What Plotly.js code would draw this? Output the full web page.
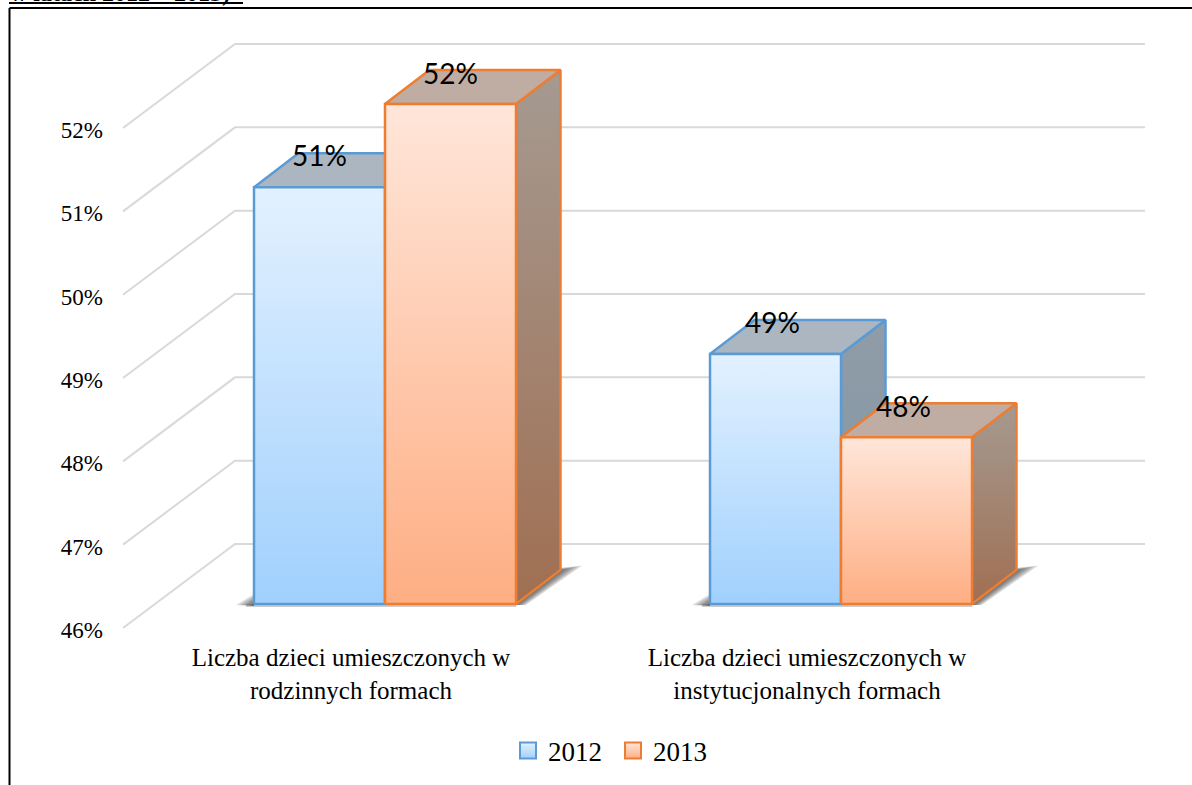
<!DOCTYPE html>
<html>
<head>
<meta charset="utf-8">
<script src="https://cdn.plot.ly/plotly-3.0.1.min.js"></script>
<style>html,body{margin:0;padding:0;background:#fff}#chart{width:1192px;height:785px}</style>
</head>
<body>
<div id="chart"></div>
<script>
// ---- data ----
const categories = ["Liczba dzieci umieszczonych w<br>rodzinnych formach", "Liczba dzieci umieszczonych w<br>instytucjonalnych formach"];
const years = ["2012", "2013"];
const values2012 = [51, 49];
const values2013 = [52, 48];
const axisTicks = [46, 47, 48, 49, 50, 51, 52];
const axisTickText = ["46%", "47%", "48%", "49%", "50%", "51%", "52%"];
const heading = "w latach 2012 – 2013)";

// ---- scales: one category = 456px, one percent = 83.33px ----
const W = 1192, H = 785;
const ux = 1 / 456, uy = 1 / 83.33;
const xRange = [1 - 385 * ux, 1 + (W - 385) * ux];
const yRange = [46 - (H - 604) * uy, 46 + 604 * uy];
const baseV = 46;
const barW = 131 * ux, depX = 44.5 * ux, depY = 34 * uy;

const blue = {line: "#5b9bd5", top: "rgb(171,182,192)", front: ["#a0d0fd", "#e3f1ff"], side: ["#7f95a7", "#909ca6"]};
const orange = {line: "#ed7d31", top: "rgb(191,173,163)", front: ["#feae83", "#ffe6da"], side: ["#a06f52", "#a59a91"]};

const traces = [];
const none = {hoverinfo: "skip", showlegend: false};

// walls: gridlines
axisTicks.forEach(v => {
  traces.push({...none, type: "scatter", mode: "lines",
    x: [1 - 262 * ux, 1 - 150 * ux, 1 + 760 * ux],
    y: [v - 24 * uy, v + 60 * uy, v + 60 * uy],
    line: {color: "#d9d9d9", width: 2}});
});

function poly(xs, ys, opts) {
  traces.push({...none, type: "scatter", mode: "lines", fill: "toself",
    x: [...xs, xs[0]], y: [...ys, ys[0]], ...opts});
}
const noLine = {width: 0, color: "rgba(0,0,0,0)"};
function shadow(L, R) {
  [22, 19, 16, 13, 10, 7, 4].forEach(e => poly(
    [R, R + depX, R + depX + e * ux, R + e * 0.45 * ux],
    [baseV - 1 * uy, baseV + depY - 1 * uy + e * 0.15 * uy, baseV + depY + e * 0.2 * uy, baseV - 1 * uy],
    {line: noLine, fillcolor: "rgba(50,50,50,0.14)"}));
  [18, 15, 12, 9, 6, 3].forEach(e => poly(
    [L, L, L - e * ux],
    [baseV - 2 * uy, baseV + (e * 0.55) * uy, baseV - 1 * uy],
    {line: noLine, fillcolor: "rgba(50,50,50,0.16)"}));
  poly([L - 8 * ux, R, R, L - 8 * ux],
       [baseV - 3 * uy, baseV - 3 * uy, baseV, baseV],
       {line: noLine, fillcolor: "rgba(90,90,90,0.3)"});
}
function bar(L, v, c) {
  const R = L + barW;
  const ln = {color: c.line, width: 2.5};
  poly([R, R + depX, R + depX, R], [baseV, baseV + depY, v + depY, v],
    {line: ln, fillgradient: {type: "vertical", start: baseV, stop: v + depY,
      colorscale: [[0, c.side[0]], [1, c.side[1]]]}});
  poly([L, L + depX, R + depX, R], [v, v + depY, v + depY, v],
    {line: ln, fillcolor: c.top});
  poly([L, R, R, L], [baseV, baseV, v, v],
    {line: ln, fillgradient: {type: "vertical", start: baseV, stop: v,
      colorscale: [[0, c.front[0]], [1, c.front[1]]]}});
}

categories.forEach((_, i) => {
  const center = i + 1;
  shadow(center - barW, center + barW);
  bar(center - barW, values2012[i], blue);
  bar(center, values2013[i], orange);
});

// data labels (second group sits slightly left of its bars in the source perspective)
const labelX = [], labelY = [], labelT = [];
categories.forEach((_, i) => {
  const nudge = -3 * i * ux;
  labelX.push(i + 1 - barW / 2 + nudge, i + 1 + barW / 2 + nudge);
  labelY.push(values2012[i] + 28 * uy, values2013[i] + 27 * uy);
  labelT.push(values2012[i] + "%", values2013[i] + "%");
});
traces.push({...none, type: "scatter", mode: "text", x: labelX, y: labelY, text: labelT,
  textposition: "middle center", textfont: {family: "Lato, 'Open Sans', sans-serif", size: 28, color: "#000"}});

// carrier for the label axes
traces.push({...none, type: "scatter", mode: "none", xaxis: "x2", yaxis: "y2",
  x: [1, 2], y: [46, 52]});

// legend keys
[blue, orange].forEach((c, i) => traces.push({
  type: "scatter", mode: "markers", name: years[i], hoverinfo: "skip",
  x: [null], y: [null], showlegend: true,
  marker: {symbol: "square", size: 16, color: c.front[1],
    gradient: {type: "vertical", color: c.front[0]}, line: {color: c.line, width: 2}}
}));

const hidden = {showgrid: false, zeroline: false, showline: false, showticklabels: false, ticks: "", fixedrange: true};
const serif = "'Liberation Serif', serif";
const layout = {
  width: W, height: H,
  margin: {l: 0, r: 0, t: 0, b: 0},
  paper_bgcolor: "#fff", plot_bgcolor: "rgba(0,0,0,0)",
  hovermode: false,
  xaxis: {...hidden, domain: [0, 1], range: xRange},
  yaxis: {...hidden, domain: [0, 1], range: yRange},
  xaxis2: {showgrid: false, zeroline: false, showline: false, ticks: "", fixedrange: true,
    overlaying: "x", anchor: "free", position: 1 - 640 / H, side: "bottom",
    range: [xRange[0] + 34 * ux, xRange[1] + 34 * ux],
    tickmode: "array", tickvals: [1, 2], ticktext: categories,
    tickangle: 0, tickfont: {family: serif, size: 25, color: "#000"}},
  yaxis2: {showgrid: false, zeroline: false, showline: false, ticks: "", fixedrange: true,
    overlaying: "y", anchor: "free", position: 103 / W, side: "left",
    range: [yRange[0] + 26 * uy, yRange[1] + 26 * uy],
    tickmode: "array", tickvals: axisTicks, ticktext: axisTickText,
    tickfont: {family: serif, size: 23, color: "#000"}},
  showlegend: true,
  legend: {orientation: "h", x: 0.4262, y: 1 - 751 / H, xanchor: "left", yanchor: "middle",
    entrywidth: 60, entrywidthmode: "pixels",
    font: {family: serif, size: 27, color: "#000"}, bgcolor: "rgba(0,0,0,0)",
    itemclick: false, itemdoubleclick: false},
  shapes: [
    {type: "line", xref: "paper", yref: "paper", x0: 9.5 / W, x1: 1, y0: 1 - 8 / H, y1: 1 - 8 / H, line: {color: "#000", width: 2}},
    {type: "line", xref: "paper", yref: "paper", x0: 9.5 / W, x1: 9.5 / W, y0: 0, y1: 1 - 8 / H, line: {color: "#000", width: 2}},
    {type: "line", xref: "paper", yref: "paper", x0: 9 / W, x1: 243 / W, y0: 1 - 3 / H, y1: 1 - 3 / H, line: {color: "#000", width: 2}}
  ],
  annotations: [{text: heading, xref: "paper", yref: "paper", x: 9 / W, y: 1 - 7 / H,
    xanchor: "left", yanchor: "bottom", showarrow: false, borderpad: 0,
    font: {family: serif, size: 24, weight: "bold", color: "#000"}}]
};
Plotly.newPlot("chart", traces, layout, {displayModeBar: false, staticPlot: true});
</script>
</body>
</html>
